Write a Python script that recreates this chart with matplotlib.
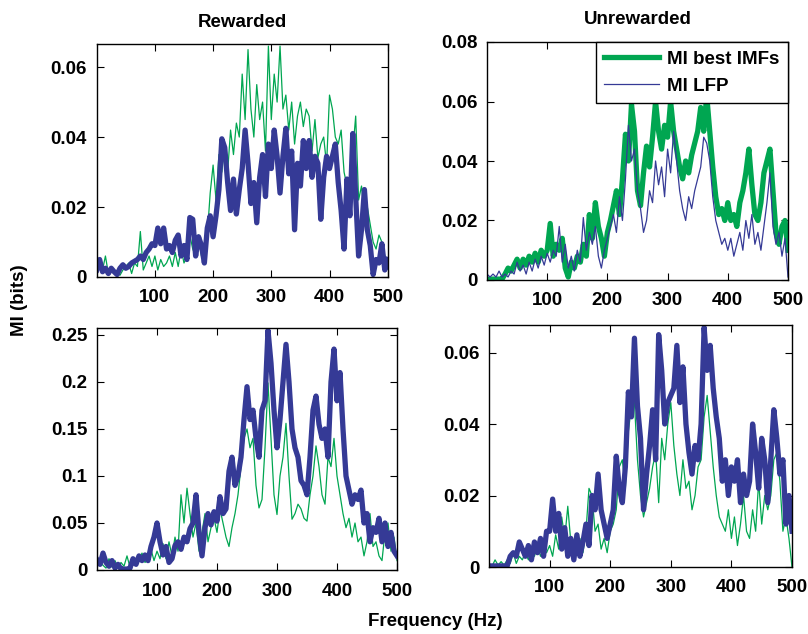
import numpy as np
import matplotlib
matplotlib.use("Agg")
import matplotlib.pyplot as plt

plt.rcParams['font.family'] = ['Liberation Sans', 'DejaVu Sans']
plt.rcParams['font.weight'] = 'bold'

freq = np.arange(0, 501, 5)

tl_lfp = [0.002, 0.005, 0.0015, 0.0025, 0.001, 0.0025, 0.0015, 0.0007, 0.0025, 0.0035,
          0.0025, 0.003, 0.004, 0.0045, 0.005, 0.006, 0.005, 0.007, 0.008, 0.0095,
          0.009, 0.014, 0.0095, 0.014, 0.008, 0.009, 0.007, 0.0105, 0.012, 0.006,
          0.009, 0.005, 0.017, 0.0165, 0.006, 0.0115, 0.009, 0.004, 0.014, 0.0175,
          0.0115, 0.0175, 0.025, 0.0395, 0.037, 0.027, 0.019, 0.028, 0.018, 0.025,
          0.031, 0.042, 0.0325, 0.021, 0.027, 0.0155, 0.0285, 0.035, 0.023, 0.038,
          0.031, 0.042, 0.0345, 0.024, 0.0345, 0.0425, 0.0295, 0.036, 0.0135, 0.0325,
          0.026, 0.039, 0.031, 0.039, 0.0285, 0.0345, 0.0325, 0.0165, 0.0285, 0.0345,
          0.031, 0.0345, 0.038, 0.027, 0.019, 0.008, 0.028, 0.0175, 0.041, 0.023,
          0.006, 0.0135, 0.025, 0.0135, 0.009, 0.0007, 0.005, 0.004, 0.0095, 0.002, 0.005]
tl_imf = [0.003, 0.0055, 0.002, 0.006, 0.001, 0.003, 0.001, 0.0015, 0.0005, 0.002,
          0.003, 0.004, 0.001, 0.004, 0.003, 0.013, 0.002, 0.004, 0.006, 0.003,
          0.006, 0.002, 0.005, 0.003, 0.004, 0.006, 0.003, 0.007, 0.003, 0.008,
          0.004, 0.006, 0.012, 0.008, 0.006, 0.012, 0.006, 0.008, 0.012, 0.024,
          0.032, 0.022, 0.035, 0.030, 0.038, 0.030, 0.042, 0.035, 0.044, 0.040,
          0.058, 0.045, 0.065, 0.048, 0.040, 0.055, 0.045, 0.050, 0.036, 0.066,
          0.045, 0.058, 0.050, 0.066, 0.048, 0.052, 0.042, 0.050, 0.038, 0.046,
          0.050, 0.043, 0.048, 0.046, 0.036, 0.045, 0.034, 0.038, 0.040, 0.032,
          0.052, 0.048, 0.040, 0.038, 0.042, 0.030, 0.026, 0.020, 0.036, 0.046,
          0.022, 0.026, 0.018, 0.020, 0.015, 0.010, 0.008, 0.012, 0.010, 0.006, 0.005]

tr_imf = [0.0003, 0.0003, 0.0003, 0.0003, 0.0003, 0.0003, 0.002, 0.004, 0.003, 0.005,
          0.007, 0.004, 0.007, 0.005, 0.008, 0.006, 0.009, 0.006, 0.010, 0.008,
          0.010, 0.019, 0.008, 0.012, 0.010, 0.014, 0.004, 0.001, 0.006, 0.004,
          0.008, 0.006, 0.012, 0.008, 0.022, 0.014, 0.026, 0.018, 0.014, 0.008,
          0.016, 0.020, 0.025, 0.030, 0.022, 0.034, 0.049, 0.040, 0.059, 0.050,
          0.030, 0.025, 0.036, 0.045, 0.038, 0.048, 0.060, 0.050, 0.044, 0.052,
          0.048, 0.060, 0.050, 0.044, 0.038, 0.034, 0.040, 0.036, 0.042, 0.046,
          0.050, 0.058, 0.050, 0.062, 0.050, 0.038, 0.028, 0.022, 0.024, 0.020,
          0.026, 0.020, 0.022, 0.018, 0.026, 0.030, 0.036, 0.044, 0.032, 0.022,
          0.020, 0.026, 0.036, 0.040, 0.044, 0.030, 0.016, 0.012, 0.018, 0.020, 0.010]
tr_lfp = [0.002, 0.001, 0.002, 0.001, 0.003, 0.001, 0.002, 0.001, 0.003, 0.002,
          0.006, 0.003, 0.005, 0.002, 0.006, 0.003, 0.007, 0.004, 0.008, 0.005,
          0.009, 0.006, 0.010, 0.008, 0.018, 0.006, 0.012, 0.004, 0.008, 0.003,
          0.010, 0.006, 0.021, 0.010, 0.016, 0.012, 0.018, 0.008, 0.004, 0.010,
          0.014, 0.018, 0.022, 0.016, 0.028, 0.020, 0.034, 0.052, 0.040, 0.044,
          0.030, 0.024, 0.016, 0.020, 0.030, 0.026, 0.040, 0.032, 0.038, 0.028,
          0.044, 0.036, 0.050, 0.040, 0.030, 0.024, 0.020, 0.028, 0.024, 0.030,
          0.034, 0.038, 0.048, 0.046, 0.040, 0.028, 0.020, 0.016, 0.012, 0.014,
          0.010, 0.014, 0.008, 0.012, 0.016, 0.010, 0.020, 0.014, 0.022, 0.012,
          0.016, 0.010, 0.018, 0.026, 0.036, 0.018, 0.012, 0.016, 0.008, 0.014, 0.001]

bl_lfp = [0.011, 0.006, 0.018, 0.008, 0.004, 0.010, 0.002, 0.006, 0.001, 0.001,
          0.001, 0.002, 0.012, 0.006, 0.015, 0.010, 0.016, 0.010, 0.025, 0.035,
          0.050, 0.030, 0.016, 0.025, 0.008, 0.012, 0.026, 0.030, 0.022, 0.035,
          0.030, 0.044, 0.050, 0.080, 0.040, 0.015, 0.045, 0.060, 0.048, 0.062,
          0.052, 0.078, 0.060, 0.065, 0.105, 0.120, 0.090, 0.100, 0.120, 0.160,
          0.195, 0.160, 0.170, 0.140, 0.120, 0.170, 0.180, 0.255, 0.220, 0.170,
          0.130, 0.160, 0.200, 0.240, 0.200, 0.150, 0.130, 0.120, 0.095, 0.090,
          0.080, 0.120, 0.170, 0.185, 0.155, 0.140, 0.150, 0.120, 0.200, 0.235,
          0.180, 0.210, 0.150, 0.100, 0.085, 0.070, 0.080, 0.075, 0.085, 0.050,
          0.060, 0.030, 0.045, 0.040, 0.055, 0.030, 0.050, 0.025, 0.040, 0.020, 0.015]
bl_imf = [0.003, 0.010, 0.005, 0.002, 0.012, 0.003, 0.010, 0.002, 0.008, 0.004,
          0.015, 0.003, 0.012, 0.005, 0.010, 0.018, 0.008, 0.012, 0.022, 0.010,
          0.020, 0.012, 0.028, 0.012, 0.030, 0.015, 0.035, 0.020, 0.080, 0.050,
          0.087, 0.060, 0.035, 0.050, 0.020, 0.040, 0.060, 0.030, 0.045, 0.055,
          0.040, 0.065, 0.050, 0.035, 0.025, 0.045, 0.060, 0.080, 0.110, 0.140,
          0.150, 0.130, 0.140, 0.090, 0.066, 0.075, 0.130, 0.199, 0.140, 0.080,
          0.059, 0.100, 0.120, 0.156, 0.100, 0.054, 0.060, 0.070, 0.065, 0.055,
          0.052, 0.080, 0.100, 0.132, 0.110, 0.080, 0.070, 0.120, 0.110, 0.140,
          0.100, 0.080, 0.060, 0.045, 0.055, 0.035, 0.050, 0.030, 0.035, 0.015,
          0.030, 0.060, 0.025, 0.030, 0.015, 0.010, 0.040, 0.050, 0.020, 0.035, 0.010]

br_lfp = [0.0003, 0.0003, 0.0003, 0.0003, 0.0003, 0.0003, 0.0003, 0.003, 0.004, 0.003,
          0.007, 0.005, 0.003, 0.006, 0.002, 0.007, 0.004, 0.008, 0.003, 0.010,
          0.010, 0.019, 0.010, 0.015, 0.005, 0.011, 0.003, 0.008, 0.002, 0.009,
          0.003, 0.007, 0.012, 0.006, 0.020, 0.016, 0.026, 0.016, 0.012, 0.008,
          0.012, 0.016, 0.031, 0.022, 0.018, 0.028, 0.049, 0.042, 0.064, 0.045,
          0.036, 0.016, 0.026, 0.034, 0.044, 0.030, 0.065, 0.055, 0.040, 0.046,
          0.048, 0.050, 0.062, 0.046, 0.056, 0.040, 0.032, 0.026, 0.034, 0.030,
          0.040, 0.067, 0.055, 0.062, 0.050, 0.042, 0.036, 0.024, 0.030, 0.020,
          0.028, 0.024, 0.030, 0.018, 0.026, 0.020, 0.024, 0.040, 0.032, 0.022,
          0.036, 0.030, 0.018, 0.030, 0.044, 0.036, 0.026, 0.030, 0.012, 0.020, 0.010]
br_imf = [0.001, 0.0002, 0.002, 0.0005, 0.0015, 0.0005, 0.002, 0.001, 0.004, 0.001,
          0.003, 0.002, 0.004, 0.002, 0.005, 0.003, 0.006, 0.003, 0.005, 0.004,
          0.006, 0.003, 0.009, 0.005, 0.014, 0.008, 0.017, 0.007, 0.003, 0.006,
          0.008, 0.004, 0.010, 0.022, 0.020, 0.010, 0.012, 0.005, 0.008, 0.004,
          0.010, 0.012, 0.016, 0.028, 0.030, 0.022, 0.038, 0.045, 0.046, 0.030,
          0.020, 0.014, 0.018, 0.022, 0.028, 0.032, 0.018, 0.036, 0.030, 0.040,
          0.046, 0.034, 0.026, 0.020, 0.030, 0.022, 0.024, 0.016, 0.020, 0.028,
          0.030, 0.042, 0.048, 0.038, 0.028, 0.020, 0.014, 0.012, 0.010, 0.016,
          0.008, 0.014, 0.006, 0.012, 0.020, 0.010, 0.008, 0.016, 0.010, 0.024,
          0.012, 0.020, 0.016, 0.020, 0.030, 0.032, 0.024, 0.010, 0.014, 0.008, 0.000]

titles = ["Rewarded", "Unrewarded"]
xticks = [100, 200, 300, 400, 500]
xticklabels = ["100", "200", "300", "400", "500"]
yticks_tl = [0, 0.02, 0.04, 0.06]
ylabels_tl = ["0", "0.02", "0.04", "0.06"]
yticks_tr = [0, 0.02, 0.04, 0.06, 0.08]
ylabels_tr = ["0", "0.02", "0.04", "0.06", "0.08"]
yticks_bl = [0, 0.05, 0.1, 0.15, 0.2, 0.25]
ylabels_bl = ["0", "0.05", "0.1", "0.15", "0.2", "0.25"]
yticks_br = [0, 0.02, 0.04, 0.06]
ylabels_br = ["0", "0.02", "0.04", "0.06"]

GREEN = '#00A651'
BLUE = '#353A96'
FS = 13.5

fig = plt.figure(figsize=(8.08, 6.34), dpi=100)

def px_axes(l, r, t, b):
    W, H = 808.0, 634.0
    return fig.add_axes([l / W, 1 - b / H, (r - l) / W, (b - t) / H])

ax_tl = px_axes(96.7, 387.7, 44, 277)
ax_tr = px_axes(487, 788, 42, 280)
ax_bl = px_axes(97, 397, 328, 570)
ax_br = px_axes(489, 792, 325, 567)

THICK = 3.8
THIN = 0.9
panels = [
    (ax_tl, tl_imf, tl_lfp, THIN, THICK, 0.0666, yticks_tl, ylabels_tl),
    (ax_tr, tr_imf, tr_lfp, THICK, THIN, 0.08, yticks_tr, ylabels_tr),
    (ax_bl, bl_imf, bl_lfp, THIN, THICK, 0.2574, yticks_bl, ylabels_bl),
    (ax_br, br_imf, br_lfp, THIN, THICK, 0.0677, yticks_br, ylabels_br),
]

for ax, imf, lfp, lw_g, lw_b, ytop, yt, yl in panels:
    ax.plot(freq, imf, color=GREEN, lw=lw_g, label='MI best IMFs', solid_joinstyle='round')
    ax.plot(freq, lfp, color=BLUE, lw=lw_b, label='MI LFP', solid_joinstyle='round')
    ax.set_xlim(0, 500)
    ax.set_ylim(0, ytop)
    ax.set_xticks(xticks)
    ax.set_xticklabels(xticklabels, fontsize=FS, fontweight='bold')
    ax.set_yticks(yt)
    ax.set_yticklabels(yl, fontsize=FS, fontweight='bold')
    ax.tick_params(direction='in', top=True, right=True, length=5, width=0.8)
    ax.tick_params(axis='x', pad=9)
    ax.tick_params(axis='y', pad=7)
    for s in ax.spines.values():
        s.set_linewidth(1.0)

ax_tl.set_title(titles[0], fontsize=FS, fontweight='bold', pad=12)
ax_tr.set_title(titles[1], fontsize=FS, fontweight='bold', pad=13)

leg = ax_tr.legend(loc='upper right', borderaxespad=0, fancybox=False,
                   edgecolor='black', framealpha=1, prop={'weight': 'bold', 'size': FS},
                   handlelength=2.9, handletextpad=0.45, borderpad=0.45, labelspacing=0.55)
leg.get_frame().set_linewidth(1.0)

fig.text(19 / 808, 1 - 300 / 634, 'MI (bits)', rotation=90, ha='center', va='center',
         fontsize=FS, fontweight='bold')
fig.text(435 / 808, 1 - 622 / 634, 'Frequency (Hz)', ha='center', va='center',
         fontsize=FS, fontweight='bold')

fig.savefig('out.png', dpi=100)
